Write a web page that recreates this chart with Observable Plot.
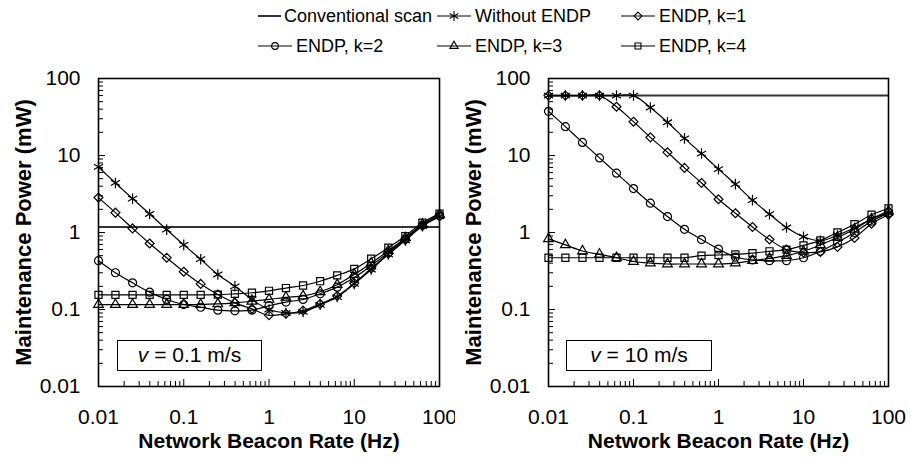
<!DOCTYPE html>
<html><head><meta charset="utf-8">
<script src="https://cdn.jsdelivr.net/npm/d3@7"></script>
<script src="https://cdn.jsdelivr.net/npm/@observablehq/plot@0.6"></script>
<style>
body{margin:0;background:#fff;font-family:"Liberation Sans",Arial,sans-serif;}
#wrap{position:relative;width:911px;height:461px;overflow:hidden;background:#fff}
#legend{position:absolute;left:0;top:0}
#row{position:absolute;left:0;top:62px;display:flex}
.note{position:absolute;box-sizing:border-box;border:1.5px solid #000;background:#fff;font-size:21px;line-height:28px;text-align:center;color:#000}
</style></head><body>
<div id="wrap"><div id="row"></div><svg id="legend" width="911" height="62"></svg>
<div class="note" style="left:117px;top:340px;width:145px;height:31px"><i>v</i> = 0.1 m/s</div>
<div class="note" style="left:566px;top:340px;width:146px;height:31px"><i>v</i> = 10 m/s</div>
</div>
<script>
// ---- data ----
const beaconRate = [0.01, 0.0158, 0.0251, 0.0398, 0.0631, 0.1, 0.158, 0.251, 0.398, 0.631, 1, 1.58, 2.51, 3.98, 6.31, 10, 15.8, 25.1, 39.8, 63.1, 100];
const seriesNames = ["Without ENDP", "ENDP, k=1", "ENDP, k=2", "ENDP, k=3", "ENDP, k=4"];
const convLabel = "Conventional scan";

// v = 0.1 m/s
const convSlow = 1.18;
const withoutSlow = [7.1, 4.4, 2.75, 1.74, 1.09, 0.69, 0.45, 0.285, 0.20, 0.135, 0.10, 0.09, 0.093, 0.115, 0.145, 0.215, 0.33, 0.52, 0.79, 1.21, 1.62];
const k1Slow = [2.84, 1.81, 1.13, 0.72, 0.47, 0.31, 0.215, 0.157, 0.122, 0.102, 0.084, 0.088, 0.097, 0.118, 0.15, 0.22, 0.34, 0.53, 0.8, 1.22, 1.63];
const k2Slow = [0.43, 0.30, 0.222, 0.168, 0.135, 0.116, 0.107, 0.098, 0.096, 0.098, 0.112, 0.125, 0.135, 0.16, 0.195, 0.26, 0.37, 0.55, 0.83, 1.25, 1.66];
const k3Slow = [0.116, 0.116, 0.116, 0.116, 0.116, 0.116, 0.116, 0.118, 0.122, 0.128, 0.135, 0.144, 0.15, 0.17, 0.21, 0.285, 0.40, 0.58, 0.85, 1.28, 1.7];
const k4Slow = [0.155, 0.155, 0.155, 0.155, 0.155, 0.155, 0.155, 0.156, 0.16, 0.165, 0.175, 0.19, 0.205, 0.233, 0.277, 0.337, 0.456, 0.634, 0.90, 1.34, 1.76];

// v = 10 m/s
const convFast = 60;
const withoutFast = [60, 60, 60, 60, 60, 60, 42, 27, 16.7, 10.6, 6.65, 4.25, 2.63, 1.73, 1.16, 0.88, 0.78, 0.92, 1.15, 1.5, 1.8];
const k1Fast = [60, 60, 60, 60, 43, 27.5, 17.2, 11, 6.9, 4.4, 2.7, 1.78, 1.18, 0.81, 0.6, 0.55, 0.56, 0.65, 0.85, 1.3, 1.7];
const k2Fast = [37.5, 23.7, 14.8, 9.3, 5.9, 3.72, 2.4, 1.61, 1.10, 0.81, 0.61, 0.48, 0.44, 0.43, 0.43, 0.47, 0.57, 0.74, 1.0, 1.4, 1.8];
const k3Fast = [0.83, 0.69, 0.575, 0.52, 0.47, 0.42, 0.40, 0.39, 0.39, 0.39, 0.39, 0.40, 0.43, 0.46, 0.5, 0.57, 0.69, 0.86, 1.1, 1.5, 1.9];
const k4Fast = [0.47, 0.47, 0.47, 0.47, 0.47, 0.47, 0.47, 0.47, 0.47, 0.50, 0.51, 0.52, 0.54, 0.57, 0.60, 0.68, 0.79, 1.0, 1.28, 1.7, 2.05];

const tickValues = [0.01, 0.1, 1, 10, 100];
const tickLabels = ["0.01", "0.1", "1", "10", "100"];
const xTitle = "Network Beacon Rate (Hz)";
const yTitle = "Maintenance Power (mW)";

// ---- styling ----
const symbols = ["asterisk", "diamond2", "circle", "triangle", "square"];
const symR = [5, 4, 4, 3.6, 4];
const FONT = '"Liberation Sans", Arial, sans-serif';
const minorTicks = [];
for (const d of [0.01, 0.1, 1, 10]) for (let m = 2; m <= 9; m++) minorTicks.push(+(d * m).toPrecision(3));
const fmt = d => tickLabels[tickValues.indexOf(d)];

function panel(seriesList, conv, width, ml, mr) {
  const rows = [];
  seriesList.forEach((vals, s) => vals.forEach((v, i) => rows.push({series: seriesNames[s], s, x: beaconRate[i], y: v})));
  const dots = symbols.map((sym, s) => Plot.dot(rows.filter(r => r.s === s), {
    x: "x", y: "y", symbol: () => sym, r: symR[s], stroke: "#000", fill: "none", strokeWidth: 1.2
  }));
  return Plot.plot({
    width, height: 399,
    marginLeft: ml, marginRight: mr, marginTop: 16, marginBottom: 75,
    style: {fontFamily: FONT, fontSize: "21px", color: "#000", background: "#fff", overflow: "visible"},
    x: {type: "log", domain: [0.01, 100]},
    y: {type: "log", domain: [0.01, 100]},
    symbol: {type: "identity"},
    marks: [
      Plot.ruleY([conv], {stroke: "#333", strokeWidth: 2}),
      Plot.line(rows, {x: "x", y: "y", z: "series", curve: "catmull-rom", stroke: "#000", strokeWidth: 1.2}),
      ...dots,
      Plot.frame({stroke: "#000", strokeWidth: 1.6}),
      Plot.axisX({ticks: tickValues, tickSize: 0, tickPadding: 23, tickFormat: fmt, label: null}),
      Plot.axisX({ticks: minorTicks, tickSize: 5, dy: -5, fill: "none", label: null, strokeWidth: 1}),
      Plot.axisX({ticks: tickValues, tickSize: 7, dy: -7, fill: "none", label: null, strokeWidth: 1}),
      Plot.axisY({ticks: tickValues, tickSize: 0, tickPadding: 18, tickFormat: fmt, label: null}),
      Plot.axisY({ticks: minorTicks, tickSize: 5, dx: 5, fill: "none", label: null, strokeWidth: 1}),
      Plot.axisY({ticks: tickValues, tickSize: 7, dx: 7, fill: "none", label: null, strokeWidth: 1}),
      Plot.text([xTitle], {frameAnchor: "bottom", dy: 55, lineAnchor: "middle", textAnchor: "middle", text: d => d, fontWeight: "bold", fontSize: 21}),
      Plot.text([yTitle], {frameAnchor: "left", dx: -75, rotate: -90, lineAnchor: "middle", textAnchor: "middle", text: d => d, fontWeight: "bold", fontSize: 22})
    ]
  });
}

const row = document.getElementById("row");
row.append(panel([withoutSlow, k1Slow, k2Slow, k3Slow, k4Slow], convSlow, 455, 98, 16));
row.append(panel([withoutFast, k1Fast, k2Fast, k3Fast, k4Fast], convFast, 456, 93, 23));

// ---- legend ----
const lg = d3.select("#legend");
const legendItems = [
  {label: convLabel, sym: null, col: 0, row: 0},
  {label: seriesNames[0], sym: d3.symbolAsterisk, size: 70, col: 1, row: 0},
  {label: seriesNames[1], sym: d3.symbolDiamond2, size: 40, col: 2, row: 0},
  {label: seriesNames[2], sym: d3.symbolCircle, size: 35, col: 0, row: 1},
  {label: seriesNames[3], sym: d3.symbolTriangle, size: 30, col: 1, row: 1},
  {label: seriesNames[4], sym: d3.symbolSquare, size: 35, col: 2, row: 1}
];
const colX = [258, 437, 621], rowY = [16, 46];
for (const it of legendItems) {
  const x0 = colX[it.col], y0 = rowY[it.row];
  const g = lg.append("g");
  if (it.sym === null) {
    g.append("line").attr("x1", x0).attr("x2", x0 + 23).attr("y1", y0).attr("y2", y0).attr("stroke", "#333").attr("stroke-width", 2);
    g.append("text").attr("x", x0 + 26).attr("y", y0).attr("dy", "0.35em").attr("font-size", 18).attr("font-family", FONT).text(it.label);
  } else {
    g.append("line").attr("x1", x0).attr("x2", x0 + 34).attr("y1", y0).attr("y2", y0).attr("stroke", "#000").attr("stroke-width", 1.2);
    g.append("path").attr("d", d3.symbol(it.sym, it.size)()).attr("transform", `translate(${x0 + 17},${y0})`).attr("fill", "none").attr("stroke", "#000").attr("stroke-width", 1.1);
    g.append("text").attr("x", x0 + 38).attr("y", y0).attr("dy", "0.35em").attr("font-size", 18).attr("font-family", FONT).text(it.label);
  }
}
</script>
</body></html>
